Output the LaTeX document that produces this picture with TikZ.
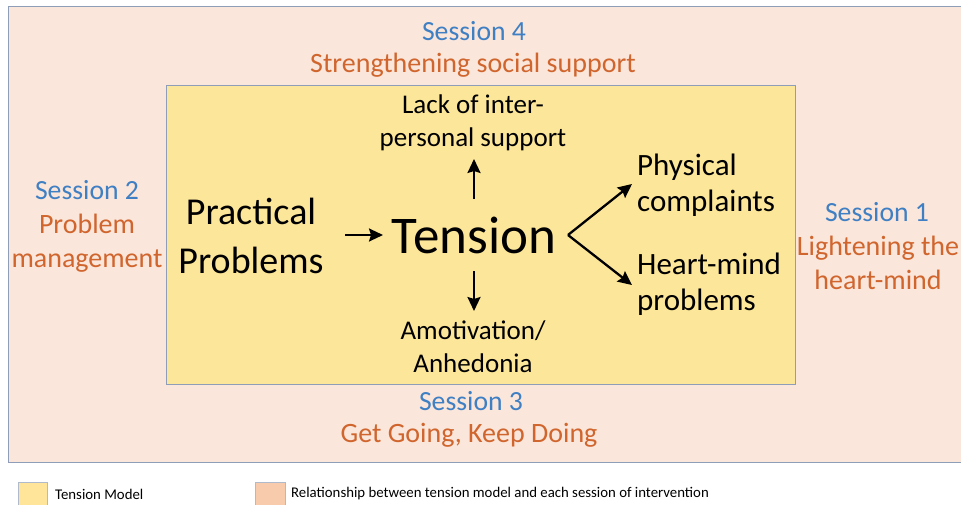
\documentclass[tikz,border=0pt]{standalone}
\usepackage{fontspec}
\setmainfont{Carlito}
\usetikzlibrary{arrows.meta}
\definecolor{outerfill}{HTML}{FAE6DA}
\definecolor{innerfill}{HTML}{FCE699}
\definecolor{boxline}{HTML}{8E9DB8}
\definecolor{sessblue}{HTML}{3F7FC4}
\definecolor{sessorange}{HTML}{D0652E}
\definecolor{legyellow}{HTML}{FFE59A}
\definecolor{legpeach}{HTML}{F8CBAD}
\tikzset{
  sess/.style={text=sessblue, font=\fontsize{27.7}{30}\selectfont, inner sep=0pt},
  theme/.style={text=sessorange, font=\fontsize{28}{34}\selectfont, inner sep=0pt, align=center},
  mid/.style={font=\fontsize{27}{33}\selectfont, inner sep=0pt, align=center},
  big/.style={font=\fontsize{38}{49}\selectfont, inner sep=0pt, align=center},
  side/.style={font=\fontsize{31}{36}\selectfont, inner sep=0pt, align=left},
  arr/.style={line width=2.3pt, -{Stealth[length=14pt,width=13pt,inset=2pt]}},
  legtext/.style={font=\fontsize{14.8}{16}\selectfont, inner sep=0pt, anchor=west},
  legbox/.style={draw=boxline!70, line width=0.8pt},
}
\begin{document}
\begin{tikzpicture}[x=1pt,y=-1pt]
\useasboundingbox (0,0) rectangle (961,505);
\fill[white] (0,0) rectangle (961,505);
\draw[boxline, fill=outerfill, line width=0.8pt] (8,6) rectangle (975,462);
\draw[boxline, fill=innerfill, line width=0.8pt] (166,85) rectangle (795,384);

% session labels
\node[sess] (s4) at (474,31) {Session 4};
\node[theme] (t4) at (473,65) {Strengthening social support};
\node[sess] (s2) at (87,190) {Session 2};
\node[theme] (t2) at (87,243) {Problem\\management};
\node[sess] (s1) at (877,212) {Session 1};
\node[theme] (t1) at (878,263) {Lightening the\\heart-mind};
\node[sess] (s3) at (471,401) {Session 3};
\node[theme] (t3) at (469,435) {Get Going, Keep Doing};

% model
\node[mid] (lack) at (473,122.5) {Lack of inter-\\personal support};
\node[font=\fontsize{53}{60}\selectfont, inner sep=0pt] (tension) at (474,235) {Tension};
\node[mid] (amo) at (473,347) {Amotivation/\\Anhedonia};
\node[big] (prac) at (251,236) {Practical\\Problems};
\node[side, anchor=west] (phys) at (637,185) {Physical\\complaints};
\node[side, anchor=west] (heart) at (637,284) {Heart-mind\\problems};

\coordinate (upS) at (474,199);
\coordinate (upE) at (474,159);
\coordinate (dnS) at (474,271);
\coordinate (dnE) at (474,311);
\coordinate (rS) at (345,235);
\coordinate (rE) at (383,235);
\coordinate (br) at (568,235);
\coordinate (brU) at (632,184);
\coordinate (brD) at (632,285);
\draw[arr] (upS) -- (upE);
\draw[arr] (dnS) -- (dnE);
\draw[arr] (rS) -- (rE);
\draw[arr] (br) -- (brU);
\draw[arr] (br) -- (brD);

% legend
\draw[legbox, fill=legyellow] (18,482) rectangle (47,506);
\node[legtext] (l1) at (55,494) {Tension Model};
\draw[legbox, fill=legpeach] (255,482) rectangle (285,506);
\node[legtext] (l2) at (291,494) {Relationship between tension model and each session of intervention};
\end{tikzpicture}
\end{document}
